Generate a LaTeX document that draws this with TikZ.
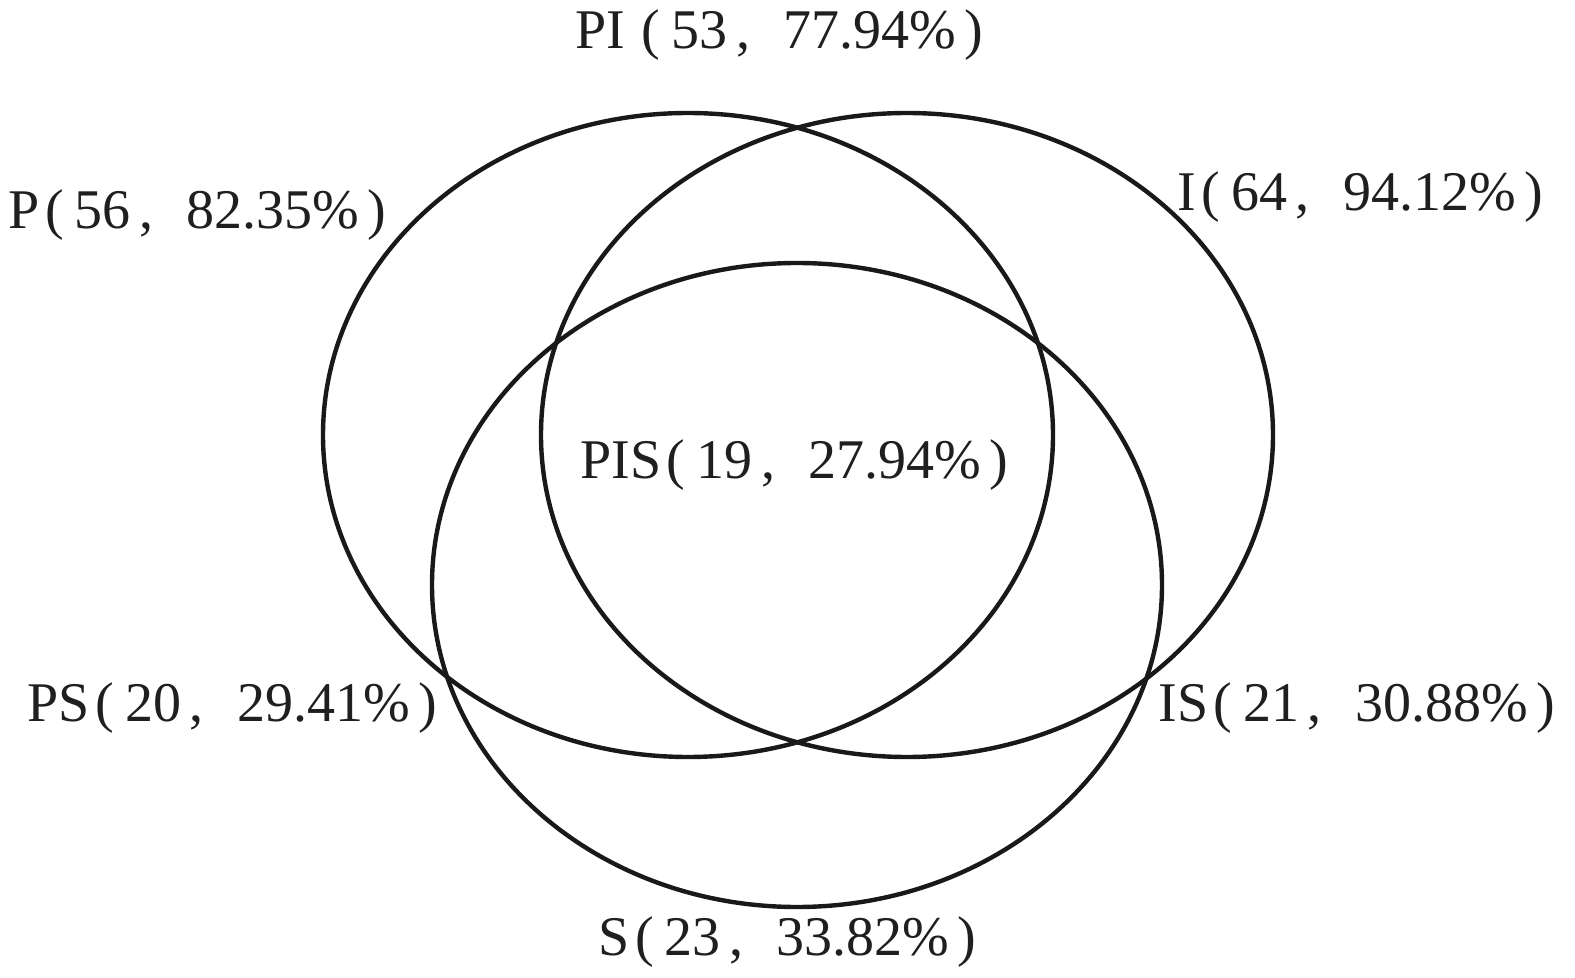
\documentclass[tikz,border=0pt]{standalone}
\usepackage{fontspec}
\setmainfont{Liberation Serif}
\newcommand{\lp}{\hspace{0.1em}(\hspace{0.2em}}
\newcommand{\rp}{\hspace{0.15em})}
\newcommand{\cm}{\hspace{0.15em},\hspace{0.6em}}
\begin{document}
\begin{tikzpicture}[x=0.5pt,y=-0.5pt,
  ring/.style={line width=2.2pt,draw=black!90},
  lab/.style={font=\fontsize{28}{32}\selectfont,anchor=base west,inner sep=0pt,text=black!88}]
\useasboundingbox (0,0) rectangle (1575,978);
\draw[ring] (688,435) ellipse [x radius=182.5pt, y radius=161pt];
\draw[ring] (907,435) ellipse [x radius=183pt, y radius=161pt];
\draw[ring] (797,585) ellipse [x radius=182.5pt, y radius=161pt];
\node[lab] (pi) at (575,49) {PI\hspace{0.2em}\lp 53\cm 77.94\%\rp};
\node[lab] (p) at (8,229) {P\lp 56\cm 82.35\%\rp};
\node[lab] (i) at (1177,211) {I\lp 64\cm 94.12\%\rp};
\node[lab] (pis) at (580,479) {PIS\lp 19\cm 27.94\%\rp};
\node[lab] (ps) at (27,721) {PS\lp 20\cm 29.41\%\rp};
\node[lab] (is) at (1158,721) {IS\lp 21\cm 30.88\%\rp};
\node[lab] (s) at (598,955) {S\lp 23\cm 33.82\%\rp};
\end{tikzpicture}
\end{document}
